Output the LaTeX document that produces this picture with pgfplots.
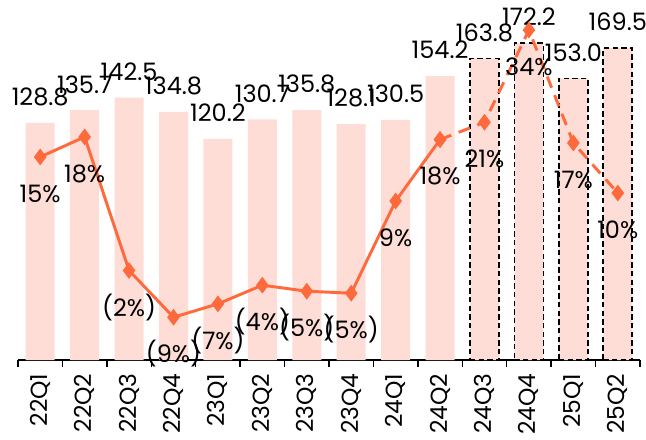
\documentclass[border=0pt]{standalone}
\usepackage{fontspec}
\setmainfont{Poppins}
\usepackage{pgfplots}
\pgfplotsset{compat=1.18}
\definecolor{barfill}{HTML}{FDDDD5}
\definecolor{lineor}{HTML}{FF6A3D}
\begin{document}
\begin{tikzpicture}
\pgfplotsset{
  common/.style={
    scale only axis, width=466.5pt, height=270pt,
    xmin=-0.5, xmax=13.5,
    clip=false,
  }
}
\begin{axis}[common,
  name=ax1,
  ymin=0, ymax=195.6,
  axis y line=none,
  axis x line*=bottom,
  axis line style={line width=1.1pt, -},
  xtick={0,...,13},
  xticklabels={22Q1,22Q2,22Q3,22Q4,23Q1,23Q2,23Q3,23Q4,24Q1,24Q2,24Q3,24Q4,25Q1,25Q2},
  major tick length=0pt,
  minor xtick={-0.5,0.5,...,13.5},
  minor tick length=5pt,
  tick align=outside,
  minor tick style={line width=1.1pt, black},
  xticklabel style={rotate=90, anchor=east, font=\fontsize{17.5}{17.5}\selectfont, inner sep=0pt},
  xticklabel shift=10pt,
  /pgf/number format/assume math mode=true,
  nodes near coords,
  nodes near coords style={font=\fontsize{18}{18}\selectfont, anchor=center, yshift=19.5pt,
     /pgf/number format/fixed, /pgf/number format/fixed zerofill, /pgf/number format/precision=1,
     /pgf/number format/assume math mode=true},
]
\addplot[ybar, bar width=21.75pt, bar shift=0pt, fill=barfill, draw=none] coordinates {
(0,128.8) (1,135.7) (2,142.5) (3,134.8) (4,120.2) (5,130.7) (6,135.8) (7,128.1) (8,130.5) (9,154.2)
};
\addplot[ybar, bar width=21.75pt, bar shift=0pt, fill=barfill, draw=black, line width=1.3pt, dash pattern=on 4pt off 2.5pt] coordinates {
(10,163.8) (11,172.2) (12,153.0) (13,169.5)
};
\end{axis}
\begin{axis}[common,
  ymin=-15.4, ymax=38.5,
  hide x axis, axis y line=none,
  nodes near coords,
  point meta=explicit symbolic,
  nodes near coords style={font=\fontsize{18}{18}\selectfont, anchor=center, yshift=-27.5pt, text=black},
]
\addplot[color=lineor, line width=2.2pt, mark=diamond*, mark size=4.5pt, mark options={solid, fill=lineor}] coordinates {
(0,15) [15\%]
(1,18) [18\%]
(2,-2) [(2\%)]
(3,-9) [(9\%)]
(4,-7) [(7\%)]
(5,-4.2) [(4\%)]
(6,-5.1) [(5\%)]
(7,-5.4) [(5\%)]
(8,8.4) [9\%]
(9,17.6) [18\%]
};
\addplot[color=lineor, line width=2.2pt, dash pattern=on 9pt off 6pt, mark=diamond*, mark size=4.5pt, mark options={solid, fill=lineor}] coordinates {
(9,17.6) []
(10,20.2) [21\%]
(11,34) [34\%]
(12,17.1) [17\%]
(13,9.6) [10\%]
};
\end{axis}
\pgfresetboundingbox
\useasboundingbox (-13.5pt,-59.25pt) rectangle (471pt,270pt);
\end{tikzpicture}
\end{document}
